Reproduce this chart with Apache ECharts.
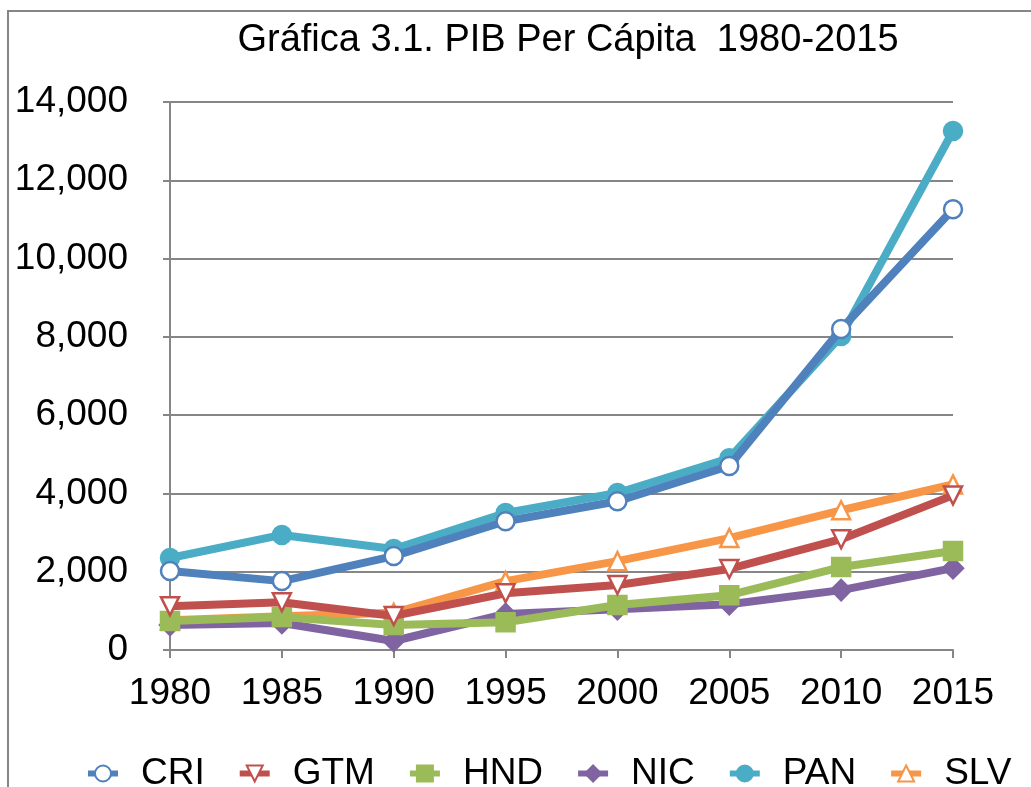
<!DOCTYPE html>
<html><head><meta charset="utf-8">
<script src="https://cdn.jsdelivr.net/npm/echarts@6/dist/echarts.min.js"></script>
<style>html,body{margin:0;padding:0;background:#fff}#c{width:1031px;height:787px}</style>
</head><body><div id="c"></div>
<script>
const years = ['1980','1985','1990','1995','2000','2005','2010','2015'];
const CRI = [2020, 1760, 2400, 3290, 3800, 4700, 8200, 11260];
const GTM = [1120, 1220, 870, 1450, 1660, 2070, 2830, 3950];
const HND = [740, 840, 640, 710, 1150, 1400, 2120, 2530];
const NIC = [640, 690, 230, 920, 1040, 1170, 1530, 2090];
const PAN = [2350, 2940, 2580, 3500, 4010, 4900, 8020, 13260];
const SLV = [760, 860, 950, 1760, 2270, 2860, 3570, 4230];
const yTicks = [0, 2000, 4000, 6000, 8000, 10000, 12000, 14000];

const FONT = '"Liberation Sans", Arial, Helvetica, sans-serif';
const GRAY = '#868686';

function mk(name, data, color, symbol, filled, size, z, rot) {
  return {
    name, type: 'line', data, z,
    symbol, symbolSize: size, symbolRotate: rot || 0,
    showAllSymbol: true,
    lineStyle: { color, width: 8 },
    itemStyle: { color: filled ? color : '#fff', borderColor: color, borderWidth: 2.5 },
    emphasis: { disabled: true },
    animation: false
  };
}

const chart = echarts.init(document.getElementById('c'), null, { renderer: 'canvas' });
chart.setOption({
  animation: false,
  textStyle: { fontFamily: FONT },
  graphic: [{
    type: 'rect', shape: { x: 8, y: 11, width: 1100, height: 900 },
    style: { fill: 'none', stroke: GRAY, lineWidth: 2 }, silent: true, z: 0
  }],
  title: {
    text: 'Gráfica 3.1. PIB Per Cápita  1980-2015',
    left: 563, textAlign: 'center', top: 17,
    textStyle: { fontFamily: FONT, fontSize: 38, fontWeight: 'normal', color: '#000' }
  },
  legend: {
    left: 80, top: 750, itemWidth: 30, itemHeight: 20, itemGap: 32,
    lineStyle: { width: 6 },
    textStyle: { fontFamily: FONT, fontSize: 37, color: '#000', padding: [0, 0, 0, 18] },
    data: ['CRI', 'GTM', 'HND', 'NIC', 'PAN', 'SLV']
  },
  grid: { left: 170, right: 78, top: 102, bottom: 137, containLabel: false },
  xAxis: {
    type: 'category', data: years, boundaryGap: false,
    axisLine: { show: true, lineStyle: { color: GRAY, width: 2 } },
    axisTick: { show: true, length: 8, alignWithLabel: true, lineStyle: { color: GRAY, width: 2 } },
    axisLabel: { color: '#000', fontSize: 37, fontFamily: FONT, margin: 25 }
  },
  yAxis: {
    type: 'value', min: 0, max: 14000, interval: 2000,
    axisLine: { show: true, lineStyle: { color: GRAY, width: 2 } },
    axisTick: { show: true, length: 7, lineStyle: { color: GRAY, width: 2 } },
    splitLine: { show: true, lineStyle: { color: GRAY, width: 2 } },
    axisLabel: {
      color: '#000', fontSize: 37, fontFamily: FONT, margin: 42,
      formatter: v => yTicks.includes(v) ? v.toLocaleString('en-US') : ''
    }
  },
  series: [
    mk('CRI', CRI, '#4f81bd', 'circle', false, 18, 8),
    mk('GTM', GTM, '#c0504d', 'triangle', false, 18, 7, 180),
    mk('HND', HND, '#9bbb59', 'rect', true, 18, 6),
    mk('NIC', NIC, '#8064a2', 'diamond', true, 20, 5),
    mk('PAN', PAN, '#4bacc6', 'circle', true, 18, 4),
    mk('SLV', SLV, '#f79646', 'triangle', false, 18, 3)
  ]
});
</script></body></html>
